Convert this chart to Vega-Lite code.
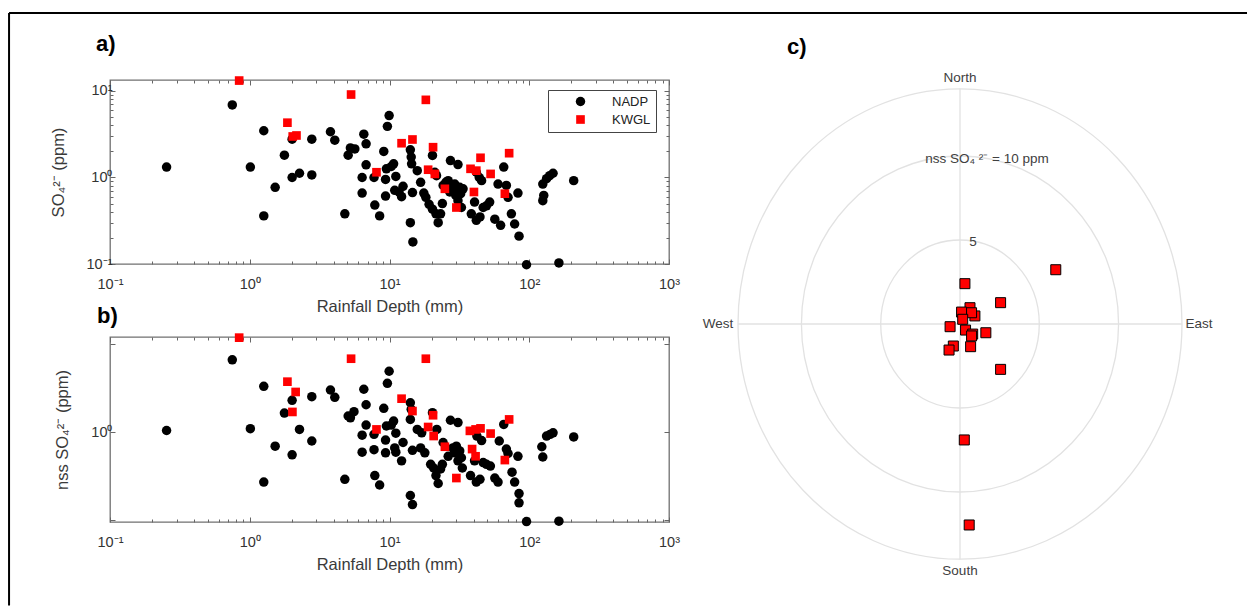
{
  "$schema": "https://vega.github.io/schema/vega-lite/v6.json",
  "padding": {"left": 8, "top": 11, "right": 0, "bottom": 0},
  "background": "white",
  "config": {
    "font": "Liberation Sans",
    "view": {"stroke": "#707070", "strokeWidth": 1.3},
    "axis": {"labelColor": "#333333", "titleColor": "#3a3a3a", "tickColor": "#666", "labelFont": "Liberation Sans", "titleFont": "Liberation Sans", "titleFontWeight": "normal", "grid": false, "domain": false, "labelFontSize": 14.5, "titleFontSize": 16.5, "labelOverlap": false, "labelFlush": false, "labelBound": false},
    "title": {"font": "Liberation Sans", "fontSize": 22, "fontWeight": "bold", "color": "black", "anchor": "start", "frame": "group"}
  },
  "datasets": {
    "a": [
      {"network":"NADP","depth":0.254,"conc":1.32},{"network":"NADP","depth":0.75,"conc":6.9},{"network":"NADP","depth":1.26,"conc":3.47},{"network":"NADP","depth":1.01,"conc":1.32},{"network":"NADP","depth":1.26,"conc":0.36},{"network":"NADP","depth":1.52,"conc":0.77},{"network":"NADP","depth":1.77,"conc":1.81},{"network":"NADP","depth":2.01,"conc":1.0},{"network":"NADP","depth":2.01,"conc":2.77},{"network":"NADP","depth":2.27,"conc":1.12},{"network":"NADP","depth":2.78,"conc":2.77},{"network":"NADP","depth":2.78,"conc":1.07},{"network":"NADP","depth":3.78,"conc":3.38},{"network":"NADP","depth":4.06,"conc":2.7},{"network":"NADP","depth":4.79,"conc":0.38},{"network":"NADP","depth":5.06,"conc":1.81},{"network":"NADP","depth":5.25,"conc":2.2},{"network":"NADP","depth":5.65,"conc":2.14},{"network":"NADP","depth":6.37,"conc":1.0},{"network":"NADP","depth":6.37,"conc":0.66},{"network":"NADP","depth":6.55,"conc":3.17},{"network":"NADP","depth":6.8,"conc":2.45},{"network":"NADP","depth":6.8,"conc":1.4},{"network":"NADP","depth":7.85,"conc":0.48},{"network":"NADP","depth":7.75,"conc":1.0},{"network":"NADP","depth":8.5,"conc":0.36},{"network":"NADP","depth":9.1,"conc":2.0},{"network":"NADP","depth":9.37,"conc":0.95},{"network":"NADP","depth":9.37,"conc":0.61},{"network":"NADP","depth":9.66,"conc":3.9},{"network":"NADP","depth":9.94,"conc":5.2},{"network":"NADP","depth":9.5,"conc":1.26},{"network":"NADP","depth":10.3,"conc":1.34},{"network":"NADP","depth":10.7,"conc":1.44},{"network":"NADP","depth":11.1,"conc":1.03},{"network":"NADP","depth":10.9,"conc":0.71},{"network":"NADP","depth":11.7,"conc":0.68},{"network":"NADP","depth":12.2,"conc":0.6},{"network":"NADP","depth":12.5,"conc":0.79},{"network":"NADP","depth":14.1,"conc":2.09},{"network":"NADP","depth":14.3,"conc":1.72},{"network":"NADP","depth":14.4,"conc":1.44},{"network":"NADP","depth":14.6,"conc":0.67},{"network":"NADP","depth":14.1,"conc":0.3},{"network":"NADP","depth":14.7,"conc":0.18},{"network":"NADP","depth":15.8,"conc":1.2},{"network":"NADP","depth":16.7,"conc":0.88},{"network":"NADP","depth":17.6,"conc":0.66},{"network":"NADP","depth":18.2,"conc":0.59},{"network":"NADP","depth":19.2,"conc":0.49},{"network":"NADP","depth":20.3,"conc":1.8},{"network":"NADP","depth":21.1,"conc":1.15},{"network":"NADP","depth":21.7,"conc":1.05},{"network":"NADP","depth":20.3,"conc":0.43},{"network":"NADP","depth":21.5,"conc":0.38},{"network":"NADP","depth":22.3,"conc":0.3},{"network":"NADP","depth":23.2,"conc":0.38},{"network":"NADP","depth":23.9,"conc":0.5},{"network":"NADP","depth":24.2,"conc":0.81},{"network":"NADP","depth":25.3,"conc":0.88},{"network":"NADP","depth":26.3,"conc":0.92},{"network":"NADP","depth":27,"conc":0.68},{"network":"NADP","depth":27.3,"conc":1.57},{"network":"NADP","depth":28.2,"conc":0.77},{"network":"NADP","depth":29.3,"conc":0.84},{"network":"NADP","depth":29.8,"conc":0.62},{"network":"NADP","depth":30.9,"conc":1.41},{"network":"NADP","depth":30.5,"conc":0.71},{"network":"NADP","depth":31.8,"conc":0.77},{"network":"NADP","depth":32.3,"conc":0.65},{"network":"NADP","depth":32.7,"conc":0.45},{"network":"NADP","depth":33.6,"conc":0.74},{"network":"NADP","depth":30.9,"conc":0.54},{"network":"NADP","depth":38.5,"conc":0.38},{"network":"NADP","depth":40.6,"conc":0.52},{"network":"NADP","depth":41.8,"conc":0.32},{"network":"NADP","depth":44.4,"conc":0.35},{"network":"NADP","depth":41.8,"conc":1.15},{"network":"NADP","depth":43.9,"conc":1.0},{"network":"NADP","depth":45.6,"conc":0.92},{"network":"NADP","depth":46.8,"conc":0.45},{"network":"NADP","depth":49.4,"conc":0.47},{"network":"NADP","depth":52.1,"conc":0.52},{"network":"NADP","depth":56.7,"conc":0.33},{"network":"NADP","depth":59.8,"conc":0.84},{"network":"NADP","depth":62.4,"conc":0.28},{"network":"NADP","depth":65.7,"conc":1.32},{"network":"NADP","depth":68.6,"conc":0.81},{"network":"NADP","depth":70.5,"conc":0.59},{"network":"NADP","depth":74.5,"conc":0.38},{"network":"NADP","depth":78.6,"conc":0.29},{"network":"NADP","depth":83,"conc":0.66},{"network":"NADP","depth":84.5,"conc":0.21},{"network":"NADP","depth":95.6,"conc":0.098},{"network":"NADP","depth":125,"conc":0.84},{"network":"NADP","depth":127,"conc":0.62},{"network":"NADP","depth":125,"conc":0.54},{"network":"NADP","depth":133,"conc":0.97},{"network":"NADP","depth":140,"conc":1.05},{"network":"NADP","depth":148,"conc":1.12},{"network":"NADP","depth":163,"conc":0.103},{"network":"NADP","depth":208,"conc":0.92},
      {"network":"KWGL","depth":0.84,"conc":13.2},{"network":"KWGL","depth":5.31,"conc":9.1},{"network":"KWGL","depth":1.86,"conc":4.3},{"network":"KWGL","depth":2.03,"conc":2.98},{"network":"KWGL","depth":2.16,"conc":3.06},{"network":"KWGL","depth":8.07,"conc":1.15},{"network":"KWGL","depth":12.2,"conc":2.49},{"network":"KWGL","depth":14.6,"conc":2.75},{"network":"KWGL","depth":18.2,"conc":7.9},{"network":"KWGL","depth":20.5,"conc":2.24},{"network":"KWGL","depth":18.9,"conc":1.23},{"network":"KWGL","depth":21.1,"conc":1.1},{"network":"KWGL","depth":24.9,"conc":0.74},{"network":"KWGL","depth":30.1,"conc":0.45},{"network":"KWGL","depth":38,"conc":1.26},{"network":"KWGL","depth":41.8,"conc":1.2},{"network":"KWGL","depth":40.2,"conc":0.68},{"network":"KWGL","depth":44.8,"conc":1.69},{"network":"KWGL","depth":52.9,"conc":1.1},{"network":"KWGL","depth":66.9,"conc":0.65},{"network":"KWGL","depth":71.8,"conc":1.91}
    ],
    "b": [
      {"network":"NADP","depth":0.254,"conc":1.04},{"network":"NADP","depth":0.75,"conc":6.6},{"network":"NADP","depth":1.26,"conc":3.3},{"network":"NADP","depth":1.01,"conc":1.09},{"network":"NADP","depth":1.26,"conc":0.27},{"network":"NADP","depth":1.52,"conc":0.69},{"network":"NADP","depth":1.77,"conc":1.64},{"network":"NADP","depth":2.01,"conc":2.29},{"network":"NADP","depth":2.01,"conc":0.55},{"network":"NADP","depth":2.27,"conc":1.07},{"network":"NADP","depth":2.78,"conc":2.52},{"network":"NADP","depth":2.78,"conc":0.79},{"network":"NADP","depth":3.78,"conc":3.0},{"network":"NADP","depth":4.06,"conc":2.48},{"network":"NADP","depth":4.79,"conc":0.29},{"network":"NADP","depth":5.06,"conc":1.52},{"network":"NADP","depth":5.25,"conc":1.45},{"network":"NADP","depth":5.57,"conc":1.7},{"network":"NADP","depth":6.37,"conc":0.92},{"network":"NADP","depth":6.37,"conc":0.59},{"network":"NADP","depth":6.55,"conc":3.06},{"network":"NADP","depth":6.8,"conc":2.04},{"network":"NADP","depth":6.8,"conc":1.2},{"network":"NADP","depth":7.85,"conc":0.32},{"network":"NADP","depth":7.75,"conc":0.94},{"network":"NADP","depth":7.75,"conc":0.63},{"network":"NADP","depth":8.5,"conc":0.25},{"network":"NADP","depth":9.1,"conc":1.86},{"network":"NADP","depth":9.37,"conc":0.81},{"network":"NADP","depth":9.37,"conc":0.58},{"network":"NADP","depth":9.66,"conc":3.57},{"network":"NADP","depth":9.94,"conc":4.9},{"network":"NADP","depth":9.5,"conc":1.17},{"network":"NADP","depth":10.3,"conc":1.2},{"network":"NADP","depth":10.7,"conc":1.33},{"network":"NADP","depth":11.1,"conc":0.97},{"network":"NADP","depth":10.9,"conc":0.66},{"network":"NADP","depth":11.1,"conc":0.59},{"network":"NADP","depth":12.2,"conc":0.47},{"network":"NADP","depth":12.5,"conc":0.76},{"network":"NADP","depth":14.1,"conc":2.15},{"network":"NADP","depth":14.3,"conc":1.81},{"network":"NADP","depth":14.1,"conc":1.39},{"network":"NADP","depth":14.6,"conc":0.62},{"network":"NADP","depth":14.1,"conc":0.19},{"network":"NADP","depth":14.6,"conc":0.15},{"network":"NADP","depth":15.8,"conc":1.07},{"network":"NADP","depth":17,"conc":0.98},{"network":"NADP","depth":16.7,"conc":0.66},{"network":"NADP","depth":17.9,"conc":0.58},{"network":"NADP","depth":19.7,"conc":0.43},{"network":"NADP","depth":20.3,"conc":1.66},{"network":"NADP","depth":21.8,"conc":1.07},{"network":"NADP","depth":20.7,"conc":0.39},{"network":"NADP","depth":21.5,"conc":0.32},{"network":"NADP","depth":22.3,"conc":0.26},{"network":"NADP","depth":23.2,"conc":0.38},{"network":"NADP","depth":23.9,"conc":0.43},{"network":"NADP","depth":24.2,"conc":0.76},{"network":"NADP","depth":26.3,"conc":0.53},{"network":"NADP","depth":27.3,"conc":1.36},{"network":"NADP","depth":28.4,"conc":0.66},{"network":"NADP","depth":29.3,"conc":0.58},{"network":"NADP","depth":30.1,"conc":0.69},{"network":"NADP","depth":30.9,"conc":1.28},{"network":"NADP","depth":31.8,"conc":0.61},{"network":"NADP","depth":32.7,"conc":0.51},{"network":"NADP","depth":33.2,"conc":0.39},{"network":"NADP","depth":30.9,"conc":0.47},{"network":"NADP","depth":38,"conc":0.32},{"network":"NADP","depth":40.6,"conc":0.47},{"network":"NADP","depth":41.8,"conc":0.27},{"network":"NADP","depth":44.4,"conc":0.29},{"network":"NADP","depth":42.2,"conc":0.9},{"network":"NADP","depth":45.6,"conc":0.8},{"network":"NADP","depth":46.8,"conc":0.45},{"network":"NADP","depth":49.4,"conc":0.43},{"network":"NADP","depth":52.7,"conc":0.41},{"network":"NADP","depth":56.7,"conc":0.3},{"network":"NADP","depth":59.8,"conc":0.27},{"network":"NADP","depth":61,"conc":0.79},{"network":"NADP","depth":65.7,"conc":1.22},{"network":"NADP","depth":68.6,"conc":0.64},{"network":"NADP","depth":70.5,"conc":0.57},{"network":"NADP","depth":75.3,"conc":0.35},{"network":"NADP","depth":78.6,"conc":0.27},{"network":"NADP","depth":83,"conc":0.53},{"network":"NADP","depth":84.5,"conc":0.2},{"network":"NADP","depth":84.5,"conc":0.157},{"network":"NADP","depth":95.6,"conc":0.096},{"network":"NADP","depth":123,"conc":0.68},{"network":"NADP","depth":125,"conc":0.52},{"network":"NADP","depth":133,"conc":0.9},{"network":"NADP","depth":141,"conc":0.94},{"network":"NADP","depth":148,"conc":0.98},{"network":"NADP","depth":163,"conc":0.097},{"network":"NADP","depth":208,"conc":0.88},
      {"network":"KWGL","depth":0.84,"conc":11.8},{"network":"KWGL","depth":5.31,"conc":6.8},{"network":"KWGL","depth":1.86,"conc":3.73},{"network":"KWGL","depth":2.13,"conc":2.85},{"network":"KWGL","depth":2.02,"conc":1.69},{"network":"KWGL","depth":8.07,"conc":1.07},{"network":"KWGL","depth":12.2,"conc":2.39},{"network":"KWGL","depth":14.6,"conc":1.73},{"network":"KWGL","depth":18.2,"conc":6.8},{"network":"KWGL","depth":20.5,"conc":1.55},{"network":"KWGL","depth":18.9,"conc":1.14},{"network":"KWGL","depth":20.7,"conc":0.9},{"network":"KWGL","depth":24.9,"conc":0.68},{"network":"KWGL","depth":30.1,"conc":0.3},{"network":"KWGL","depth":37.6,"conc":1.03},{"network":"KWGL","depth":41.3,"conc":1.07},{"network":"KWGL","depth":44.8,"conc":1.1},{"network":"KWGL","depth":39,"conc":0.64},{"network":"KWGL","depth":41.3,"conc":0.53},{"network":"KWGL","depth":52.9,"conc":0.96},{"network":"KWGL","depth":66.9,"conc":0.48},{"network":"KWGL","depth":71.8,"conc":1.39}
    ],
    "c": [
      {"east":6.04,"north":3.23},{"east":0.31,"north":2.4},{"east":2.56,"north":1.27},{"east":0.63,"north":0.97},{"east":0.1,"north":0.71},{"east":0.94,"north":0.48},{"east":0.73,"north":0.67},{"east":0.17,"north":0.28},{"east":-0.625,"north":-0.16},{"east":0.35,"north":-0.36},{"east":1.63,"north":-0.52},{"east":0.8,"north":-0.6},{"east":0.73,"north":-0.71},{"east":0.67,"north":-1.35},{"east":-0.42,"north":-1.31},{"east":-0.69,"north":-1.55},{"east":2.56,"north":-2.7},{"east":0.27,"north":-6.9},{"east":0.58,"north":-11.96}
    ],
    "rings": [{"r":5},{"r":10},{"r":14}],
    "cross": [{"x":0,"x2":0,"y":-14,"y2":14},{"x":-14,"x2":14,"y":0,"y2":0}],
    "clabels": [
      {"x":0,"y":14.64,"label":"North"},{"x":0,"y":-14.7,"label":"South"},{"x":-15.26,"y":0,"label":"West"},{"x":15.07,"y":0,"label":"East"},{"x":0.82,"y":4.88,"label":"5"},{"x":1.7,"y":9.84,"label":"nss SO₄ ²⁻ = 10 ppm"}
    ],
    "frame": [{"x":-59.97,"x2":18.1,"y":18.51,"y2":18.51},{"x":-59.97,"x2":-59.97,"y":18.51,"y2":-16.75}]
  },
  "bounds": "flush",
  "columns": 2,
  "spacing": {"row": 73, "column": 69},
  "resolve": {"scale": {"x": "independent", "y": "independent", "color": "independent", "shape": "independent", "size": "independent"}},
  "concat": [
    {
      "width": 559, "height": 184,
      "title": {"text": "a)", "dx": -14, "offset": 20},
      "data": {"name": "a"},
      "resolve": {"axis": {"x": "independent", "y": "independent"}},
      "layer": [
        {
          "mark": {"type": "point", "filled": true, "opacity": 1, "clip": false},
          "encoding": {
            "x": {"field": "depth", "type": "quantitative", "scale": {"type": "log", "domain": [0.1, 1000]}, "title": "Rainfall Depth (mm)",
              "axis": {"orient": "bottom", "values": [0.1,0.2,0.3,0.4,0.5,0.6,0.7,0.8,0.9,1,2,3,4,5,6,7,8,9,10,20,30,40,50,60,70,80,90,100,200,300,400,500,600,700,800,900,1000],
                "labelExpr": "datum.value == 0.1 ? '10⁻¹' : datum.value == 1 ? '10⁰' : datum.value == 10 ? '10¹' : datum.value == 100 ? '10²' : datum.value == 1000 ? '10³' : ''",
                "tickSize": {"condition": {"test": "datum.value == 0.1 || datum.value == 1 || datum.value == 10 || datum.value == 100 || datum.value == 1000", "value": -5}, "value": -3},
                "labelPadding": 18, "titlePadding": 6}},
            "y": {"field": "conc", "type": "quantitative", "scale": {"type": "log", "domain": [0.1, 13.4]}, "title": "SO₄²⁻ (ppm)",
              "axis": {"orient": "left", "values": [0.1,0.2,0.3,0.4,0.5,0.6,0.7,0.8,0.9,1,2,3,4,5,6,7,8,9,10],
                "labelExpr": "datum.value == 0.1 ? '10⁻¹' : datum.value == 1 ? '10⁰' : datum.value == 10 ? '10¹' : ''",
                "tickSize": {"condition": {"test": "datum.value == 0.1 || datum.value == 1 || datum.value == 10", "value": -5}, "value": -3},
                "labelPadding": 3, "titlePadding": 20}},
            "color": {"field": "network", "type": "nominal", "scale": {"domain": ["NADP", "KWGL"], "range": ["#000000", "#ff0000"]},
              "legend": {"title": null, "orient": "none", "legendX": 438, "legendY": 10, "strokeColor": "#444", "fillColor": "white", "padding": 5, "symbolOffset": 21, "labelOffset": 25, "labelFontSize": 13, "labelColor": "#222", "rowPadding": 4, "labelFont": "Liberation Sans"}},
            "shape": {"field": "network", "type": "nominal", "scale": {"domain": ["NADP", "KWGL"], "range": ["circle", "square"]}},
            "size": {"field": "network", "type": "nominal", "scale": {"domain": ["NADP", "KWGL"], "range": [90, 75]}}
          }
        },
        {
          "mark": {"type": "point", "opacity": 0},
          "encoding": {
            "x": {"field": "depth", "type": "quantitative", "scale": {"type": "log", "domain": [0.1, 1000]},
              "axis": {"orient": "top", "title": null, "labels": false, "values": [0.1,0.2,0.3,0.4,0.5,0.6,0.7,0.8,0.9,1,2,3,4,5,6,7,8,9,10,20,30,40,50,60,70,80,90,100,200,300,400,500,600,700,800,900,1000],
                "tickSize": {"condition": {"test": "datum.value == 0.1 || datum.value == 1 || datum.value == 10 || datum.value == 100 || datum.value == 1000", "value": -5}, "value": -3}}},
            "y": {"field": "conc", "type": "quantitative", "scale": {"type": "log", "domain": [0.1, 13.4]},
              "axis": {"orient": "right", "title": null, "labels": false, "values": [0.1,0.2,0.3,0.4,0.5,0.6,0.7,0.8,0.9,1,2,3,4,5,6,7,8,9,10],
                "tickSize": {"condition": {"test": "datum.value == 0.1 || datum.value == 1 || datum.value == 10", "value": -5}, "value": -3}}}
          }
        }
      ]
    },
    {
      "width": 444, "height": 184,
      "title": {"text": "c)", "dx": 49, "offset": 12},
      "view": {"stroke": null},
      "layer": [
        {
          "data": {"name": "rings"},
          "mark": {"type": "point", "filled": false, "color": "#e2e2e2", "strokeWidth": 1.3, "opacity": 1, "shape": "M-1,0A1,1.0595,0,1,0,1,0A1,1.0595,0,1,0,-1,0Z", "clip": false},
          "encoding": {
            "x": {"datum": 0, "type": "quantitative", "scale": {"domain": [-14, 14], "nice": false, "zero": false}, "axis": null},
            "y": {"datum": 0, "type": "quantitative", "scale": {"domain": [-14.52, 14.52], "range": [488, 0], "nice": false, "zero": false}, "axis": null},
            "size": {"field": "r", "type": "quantitative", "scale": {"type": "pow", "exponent": 2, "domain": [0, 14], "range": [0, 197136]}, "legend": null}
          }
        },
        {
          "data": {"name": "cross"},
          "mark": {"type": "rule", "color": "#e2e2e2", "strokeWidth": 1.3},
          "encoding": {
            "x": {"field": "x", "type": "quantitative", "axis": null},
            "x2": {"field": "x2"},
            "y": {"field": "y", "type": "quantitative", "axis": null},
            "y2": {"field": "y2"}
          }
        },
        {
          "data": {"name": "clabels"},
          "mark": {"type": "text", "fontSize": 13.5, "color": "#404040", "align": "center", "baseline": "middle", "font": "Liberation Sans"},
          "encoding": {
            "x": {"field": "x", "type": "quantitative", "axis": null},
            "y": {"field": "y", "type": "quantitative", "axis": null},
            "text": {"field": "label"}
          }
        },
        {
          "data": {"name": "c"},
          "mark": {"type": "point", "shape": "square", "filled": true, "fill": "#ff0000", "stroke": "#000000", "strokeWidth": 1, "size": 100, "opacity": 1},
          "encoding": {
            "x": {"field": "east", "type": "quantitative", "axis": null},
            "y": {"field": "north", "type": "quantitative", "axis": null}
          }
        }
      ]
    },
    {
      "width": 559, "height": 185,
      "title": {"text": "b)", "dx": -13, "offset": 5},
      "data": {"name": "b"},
      "resolve": {"axis": {"x": "independent", "y": "independent"}},
      "layer": [
        {
          "mark": {"type": "point", "filled": true, "opacity": 1, "clip": false},
          "encoding": {
            "x": {"field": "depth", "type": "quantitative", "scale": {"type": "log", "domain": [0.1, 1000]}, "title": "Rainfall Depth (mm)",
              "axis": {"orient": "bottom", "values": [0.1,0.2,0.3,0.4,0.5,0.6,0.7,0.8,0.9,1,2,3,4,5,6,7,8,9,10,20,30,40,50,60,70,80,90,100,200,300,400,500,600,700,800,900,1000],
                "labelExpr": "datum.value == 0.1 ? '10⁻¹' : datum.value == 1 ? '10⁰' : datum.value == 10 ? '10¹' : datum.value == 100 ? '10²' : datum.value == 1000 ? '10³' : ''",
                "tickSize": {"condition": {"test": "datum.value == 0.1 || datum.value == 1 || datum.value == 10 || datum.value == 100 || datum.value == 1000", "value": -5}, "value": -3},
                "labelPadding": 18, "titlePadding": 6}},
            "y": {"field": "conc", "type": "quantitative", "scale": {"type": "log", "domain": [0.095, 12]}, "title": "nss SO₄²⁻ (ppm)",
              "axis": {"orient": "left", "values": [0.1, 1, 10],
                "labelExpr": "datum.value == 1 ? '10⁰' : ''",
                "tickSize": -5, "labelPadding": 3, "titlePadding": 20}},
            "color": {"field": "network", "type": "nominal", "scale": {"domain": ["NADP", "KWGL"], "range": ["#000000", "#ff0000"]}, "legend": null},
            "shape": {"field": "network", "type": "nominal", "scale": {"domain": ["NADP", "KWGL"], "range": ["circle", "square"]}, "legend": null},
            "size": {"field": "network", "type": "nominal", "scale": {"domain": ["NADP", "KWGL"], "range": [90, 75]}, "legend": null}
          }
        },
        {
          "mark": {"type": "point", "opacity": 0},
          "encoding": {
            "x": {"field": "depth", "type": "quantitative", "scale": {"type": "log", "domain": [0.1, 1000]},
              "axis": {"orient": "top", "title": null, "labels": false, "values": [0.1,0.2,0.3,0.4,0.5,0.6,0.7,0.8,0.9,1,2,3,4,5,6,7,8,9,10,20,30,40,50,60,70,80,90,100,200,300,400,500,600,700,800,900,1000],
                "tickSize": {"condition": {"test": "datum.value == 0.1 || datum.value == 1 || datum.value == 10 || datum.value == 100 || datum.value == 1000", "value": -5}, "value": -3}}},
            "y": {"field": "conc", "type": "quantitative", "scale": {"type": "log", "domain": [0.095, 12]},
              "axis": {"orient": "right", "title": null, "labels": false, "values": [0.1, 1, 10], "tickSize": -5}}
          }
        }
      ]
    },
    {
      "width": 444, "height": 185,
      "view": {"stroke": null},
      "data": {"name": "frame"},
      "mark": {"type": "rule", "color": "#000000", "strokeWidth": 2, "clip": false},
      "encoding": {
        "x": {"field": "x", "type": "quantitative", "axis": null, "scale": {"domain": [-14, 14], "nice": false, "zero": false}},
        "x2": {"field": "x2"},
        "y": {"field": "y", "type": "quantitative", "axis": null, "scale": {"domain": [-11.78, -0.7735], "nice": false, "zero": false}},
        "y2": {"field": "y2"}
      }
    }
  ]
}
